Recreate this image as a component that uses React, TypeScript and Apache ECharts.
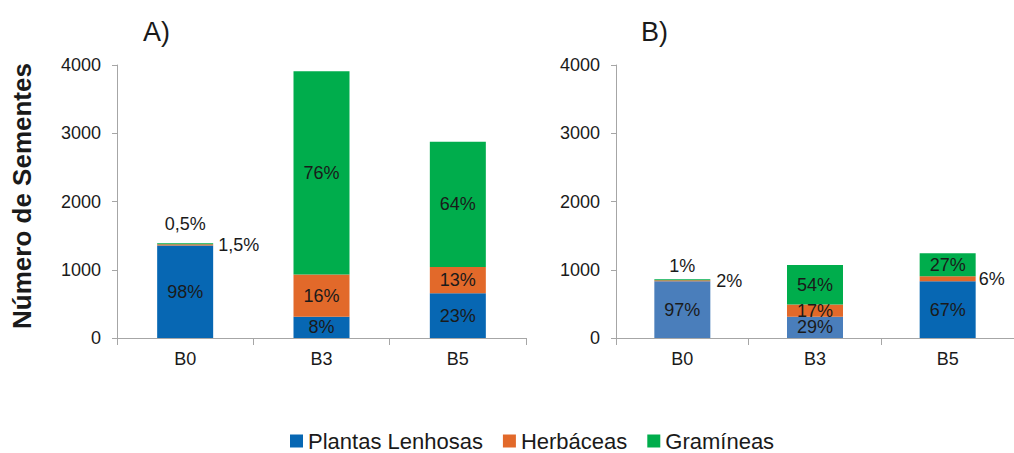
import React, { useEffect, useRef } from "react";
import * as echarts from "echarts";

const categories = ["B0", "B3", "B5"];
const seriesNames = ["Plantas Lenhosas", "Herbáceas", "Gramíneas"];

// Panel A
const lenhosasA = [1355, 310, 655];
const herbaceasA = [20, 620, 385];
const gramineasA = [15, 2980, 1835];
const lenhosasAPct = ["98%", "8%", "23%"];
const herbaceasAPct = ["1,5%", "16%", "13%"];
const gramineasAPct = ["0,5%", "76%", "64%"];

// Panel B
const lenhosasB = [830, 310, 830];
const herbaceasB = [17, 180, 75];
const gramineasB = [13, 580, 335];
const lenhosasBPct = ["97%", "29%", "67%"];
const herbaceasBPct = ["2%", "17%", "6%"];
const gramineasBPct = ["1%", "54%", "27%"];

const yTicks = [0, 1000, 2000, 3000, 4000];

const BLUE = "#0767B3";
const LIGHT_BLUE = "#4A7EBB";
const ORANGE = "#E2692A";
const GREEN = "#00AD4C";
const TEXT = "#1a1a1a";
const AXIS = "#a6a6a6";
const FONT = "'Liberation Sans', Arial, sans-serif";

export default function App() {
  const ref = useRef<HTMLDivElement>(null);

  useEffect(() => {
    if (!ref.current) return;
    const chart = echarts.init(ref.current, undefined, { renderer: "svg" });

    const grids = [
      { left: 117, top: 65, width: 409, height: 273 },
      { left: 616, top: 65, width: 410, height: 273 },
    ];

    const xAxes = grids.map((_, i) => ({
      type: "category",
      gridIndex: i,
      data: categories,
      axisLine: { show: true, lineStyle: { color: AXIS, width: 1 } },
      axisTick: { show: true, length: 7, lineStyle: { color: AXIS } },
      axisLabel: { color: TEXT, fontSize: 18, fontFamily: FONT, margin: 12 },
    }));

    const yAxes = grids.map((_, i) => ({
      type: "value",
      gridIndex: i,
      min: yTicks[0],
      max: yTicks[yTicks.length - 1],
      interval: 1000,
      splitLine: { show: false },
      axisLine: { show: true, lineStyle: { color: AXIS, width: 1 } },
      axisTick: { show: true, length: 5, lineStyle: { color: AXIS } },
      axisLabel: {
        color: TEXT,
        fontSize: 18,
        fontFamily: FONT,
        margin: 16,
        formatter: (v: number) => String(v),
      },
    }));

    const labelBase = {
      show: true,
      color: TEXT,
      fontSize: 18,
      fontFamily: FONT,
    };

    type Special = { [idx: number]: { position: string; distance?: number } };

    const mk = (
      name: string,
      values: number[],
      pcts: string[],
      color: string,
      panel: number,
      special: Special,
      colorOverride: { [idx: number]: string } = {}
    ) => ({
      name,
      type: "bar",
      stack: "s" + panel,
      xAxisIndex: panel,
      yAxisIndex: panel,
      barWidth: 56,
      itemStyle: { color },
      label: { ...labelBase, position: "inside", formatter: (p: any) => pcts[p.dataIndex] },
      data: values.map((v, idx) => {
        const item: any = { value: v };
        if (special[idx]) {
          item.label = { ...labelBase, position: special[idx].position, distance: special[idx].distance ?? 5 };
        }
        if (colorOverride[idx]) item.itemStyle = { color: colorOverride[idx] };
        return item;
      }),
    });

    const series = [
      mk(seriesNames[0], lenhosasA, lenhosasAPct, BLUE, 0, {}),
      mk(seriesNames[1], herbaceasA, herbaceasAPct, ORANGE, 0, { 0: { position: "right", distance: 5 } }),
      mk(seriesNames[2], gramineasA, gramineasAPct, GREEN, 0, { 0: { position: "top", distance: 10 } }),
      mk(seriesNames[0], lenhosasB, lenhosasBPct, BLUE, 1, {}, { 0: LIGHT_BLUE, 1: LIGHT_BLUE }),
      mk(seriesNames[1], herbaceasB, herbaceasBPct, ORANGE, 1, {
        0: { position: "right", distance: 6 },
        2: { position: "right", distance: 3 },
      }),
      mk(seriesNames[2], gramineasB, gramineasBPct, GREEN, 1, { 0: { position: "top", distance: 4 } }),
    ];

    chart.setOption({
      animation: false,
      backgroundColor: "#ffffff",
      grid: grids,
      xAxis: xAxes,
      yAxis: yAxes,
      legend: {
        data: seriesNames,
        left: 285,
        top: 424,
        icon: "rect",
        itemWidth: 13,
        itemHeight: 13,
        itemGap: 20,
        textStyle: { color: TEXT, fontSize: 22, fontFamily: FONT, lineHeight: 24 },
        selectedMode: false,
      },
      graphic: [
        {
          type: "text",
          x: 22,
          y: 196,
          rotation: Math.PI / 2,
          style: {
            text: "Número de Sementes",
            fill: TEXT,
            font: `bold 26px ${FONT}`,
            textAlign: "center",
            textVerticalAlign: "middle",
          },
        },
        {
          type: "text",
          x: 143,
          y: 32,
          style: { text: "A)", fill: TEXT, font: `27px ${FONT}`, textAlign: "left", textVerticalAlign: "middle" },
        },
        {
          type: "text",
          x: 641,
          y: 32,
          style: { text: "B)", fill: TEXT, font: `27px ${FONT}`, textAlign: "left", textVerticalAlign: "middle" },
        },
      ],
      series,
    });

    return () => chart.dispose();
  }, []);

  return (
    <div
      ref={ref}
      style={{ position: "fixed", left: 0, top: 0, width: 1014, height: 453, background: "#fff" }}
    />
  );
}
